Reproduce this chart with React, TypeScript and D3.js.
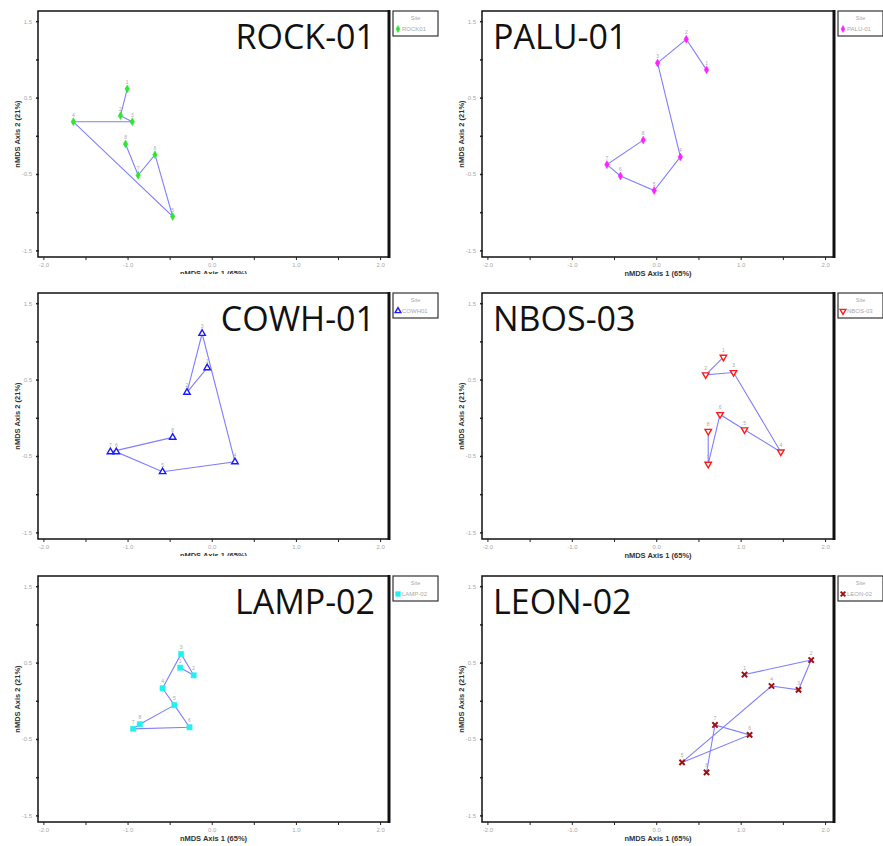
import React from "react";
import * as d3 from "d3";

// nMDS ordination scores, one array per site (samples 1..8 in order)
const siteNames = ["ROCK-01", "PALU-01", "COWH-01", "NBOS-03", "LAMP-02", "LEON-02"];
const legendNames = ["ROCK01", "PALU-01", "COWH01", "NBOS-03", "LAMP-02", "LEON-02"];
const sampleLabels = ["1", "2", "3", "4", "5", "6", "7", "8"];

const rockX = [-1.01, -1.09, -0.95, -1.65, -0.47, -0.68, -0.88, -1.03];
const rockY = [0.62, 0.27, 0.19, 0.19, -1.05, -0.24, -0.51, -0.1];
const paluX = [0.59, 0.35, 0.01, 0.28, -0.03, -0.43, -0.59, -0.16];
const paluY = [0.87, 1.27, 0.96, -0.27, -0.71, -0.52, -0.37, -0.05];
const cowhX = [-0.06, -0.3, -0.12, 0.27, -0.59, -1.14, -1.21, -0.47];
const cowhY = [0.66, 0.34, 1.11, -0.57, -0.7, -0.44, -0.44, -0.25];
const nbosX = [0.79, 0.58, 0.91, 1.47, 1.04, 0.75, 0.61, 0.61];
const nbosY = [0.8, 0.57, 0.6, -0.44, -0.15, 0.05, -0.6, -0.17];
const lampX = [-0.38, -0.22, -0.37, -0.59, -0.45, -0.27, -0.94, -0.86];
const lampY = [0.44, 0.34, 0.62, 0.17, -0.05, -0.34, -0.36, -0.3];
const leonX = [1.04, 1.83, 1.68, 1.36, 0.3, 1.1, 0.69, 0.59];
const leonY = [0.35, 0.54, 0.15, 0.2, -0.8, -0.44, -0.31, -0.93];

// sample order along each trajectory line
const defaultOrder = [1, 2, 3, 4, 5, 6, 7, 8];
const lampOrder = [1, 2, 3, 4, 5, 6, 7, 8, 5];

const xTicks = [-2, -1.5, -1, -0.5, 0, 0.5, 1, 1.5, 2];
const xTickLabels = ["-2.0", "", "-1.0", "", "0.0", "", "1.0", "", "2.0"];
const yTicks = [1.5, 1, 0.5, 0, -0.5, -1, -1.5];
const yTickLabels = ["1.5", "", "0.5", "", "-0.5", "", "-1.5"];

const xAxisTitle = "nMDS Axis 1 (65%)";
const yAxisTitle = "nMDS Axis 2 (21%)";

type Marker = { type: d3.SymbolType; fill: string; stroke: string; sw: number; size: number };

const markers: Marker[] = [
  { type: d3.symbolDiamond, fill: "#2ee62e", stroke: "#2ee62e", sw: 0.5, size: 18 },
  { type: d3.symbolDiamond, fill: "#ff22ff", stroke: "#ff22ff", sw: 0.5, size: 18 },
  { type: d3.symbolTriangle, fill: "white", stroke: "#1a1aff", sw: 1.4, size: 18 },
  { type: d3.symbolTriangle, fill: "white", stroke: "#ff1a1a", sw: 1.4, size: 18 },
  { type: d3.symbolSquare, fill: "#22f0f0", stroke: "#22f0f0", sw: 0.5, size: 28 },
  { type: d3.symbolX, fill: "none", stroke: "#a01010", sw: 2, size: 20 },
];

const panelData = [
  { xs: rockX, ys: rockY, order: defaultOrder },
  { xs: paluX, ys: paluY, order: defaultOrder },
  { xs: cowhX, ys: cowhY, order: defaultOrder },
  { xs: nbosX, ys: nbosY, order: defaultOrder },
  { xs: lampX, ys: lampY, order: lampOrder },
  { xs: leonX, ys: leonY, order: defaultOrder },
];

const colLeft = [38, 482];
const colWidth = [351, 352];
const rowTop = [11, 293, 576];
const boxH = 246;

const lineColor = "#7f7fff";
const faint = "#a8a8a8";
const font = "Liberation Sans, Arial, sans-serif";

function Panel({ idx }: { idx: number }) {
  const col = idx % 2;
  const row = Math.floor(idx / 2);
  const bx = colLeft[col];
  const bw = colWidth[col];
  const by = rowTop[row];
  const x = d3.scaleLinear().domain([-2.07, 2.1]).range([bx, bx + bw]);
  const y = d3.scaleLinear().domain([1.64, -1.58]).range([by, by + boxH]);
  const { xs, ys, order } = panelData[idx];
  const m = markers[idx];
  const pts = order.map((n) => [xs[n - 1], ys[n - 1]] as [number, number]);
  const line = d3
    .line<[number, number]>()
    .x((d) => x(d[0]))
    .y((d) => y(d[1]));
  const sym = d3.symbol().type(m.type).size(m.size);
  const flip = idx === 3;
  const clipId = `clip-${idx}`;
  const clipped = col === 0 && row < 2;
  const legendX = bx + bw + 4;
  const legendW = 45;

  return (
    <g>
      <defs>
        <clipPath id={clipId}>
          <rect x={col * 440} y={by - 11} width={443} height={clipped ? 274 : 290} />
        </clipPath>
      </defs>
      <g clipPath={`url(#${clipId})`}>
        {/* plot frame */}
        <rect x={bx} y={by} width={bw} height={boxH} fill="white" stroke="#111" strokeWidth={1.5} />
        <line x1={bx + bw} x2={bx + bw} y1={by - 1} y2={by + boxH + 1} stroke="#111" strokeWidth={3} />

        {/* axes ticks and labels */}
        {xTicks.map((t, i) => (
          <g key={`xt${i}`}>
            <line x1={x(t)} x2={x(t)} y1={by + boxH} y2={by + boxH + 3} stroke="#222" strokeWidth={1} />
            {xTickLabels[i] && (
              <text x={x(t)} y={by + boxH + 10} fontSize={6} fill={faint} textAnchor="middle" fontFamily={font}>
                {xTickLabels[i]}
              </text>
            )}
          </g>
        ))}
        {yTicks.map((t, i) => (
          <g key={`yt${i}`}>
            <line x1={bx - 2} x2={bx + 1} y1={y(t)} y2={y(t)} stroke="#222" strokeWidth={1.5} />
            {yTickLabels[i] && (
              <text x={bx - 6} y={y(t) + 2} fontSize={6} fill={faint} textAnchor="end" fontFamily={font}>
                {yTickLabels[i]}
              </text>
            )}
          </g>
        ))}
        <text
          x={bx + bw / 2}
          y={by + boxH + 19}
          fontSize={7.5}
          fontWeight="bold"
          fill="#333"
          textAnchor="middle"
          fontFamily={font}
        >
          {xAxisTitle}
        </text>
        <text
          transform={`translate(${bx - 18},${by + boxH / 2}) rotate(-90)`}
          fontSize={7.5}
          fontWeight="bold"
          fill="#333"
          textAnchor="middle"
          fontFamily={font}
        >
          {yAxisTitle}
        </text>

        {/* site name */}
        <text
          x={col === 0 ? bx + 337 : bx + 11}
          y={by + 38}
          fontSize={34}
          fill="#111"
          textAnchor={col === 0 ? "end" : "start"}
          fontFamily="Open Sans, sans-serif"
        >
          {siteNames[idx]}
        </text>

        {/* trajectory */}
        <path d={line(pts) || ""} fill="none" stroke={lineColor} strokeWidth={1.1} />
        {xs.map((v, i) => (
          <g key={`p${i}`}>
            <path
              d={sym() || ""}
              transform={`translate(${x(v)},${y(ys[i])})${flip ? " rotate(180)" : ""}`}
              fill={m.fill}
              stroke={m.stroke}
              strokeWidth={m.sw}
            />
            <text x={x(v)} y={y(ys[i]) - 5} fontSize={5} fill={faint} textAnchor="middle" fontFamily={font}>
              {sampleLabels[i]}
            </text>
          </g>
        ))}

        {/* legend */}
        <rect x={legendX} y={by} width={legendW} height={25} fill="white" stroke="#333" strokeWidth={1.2} />
        <text x={legendX + legendW / 2} y={by + 9} fontSize={5.5} fill={faint} textAnchor="middle" fontFamily={font}>
          Site
        </text>
        <path
          d={d3.symbol().type(m.type).size(m.size * 0.8)() || ""}
          transform={`translate(${legendX + 5},${by + 18})${flip ? " rotate(180)" : ""}`}
          fill={m.fill}
          stroke={m.stroke}
          strokeWidth={m.sw}
        />
        <text x={legendX + 9} y={by + 20} fontSize={6} fill={faint} fontFamily={font}>
          {legendNames[idx]}
        </text>
      </g>
    </g>
  );
}

export default function App() {
  return (
    <svg
      width={883}
      height={846}
      style={{ position: "absolute", left: 0, top: 0, background: "white" }}
    >
      <rect width={883} height={846} fill="white" />
      {siteNames.map((_, i) => (
        <Panel key={i} idx={i} />
      ))}
    </svg>
  );
}
